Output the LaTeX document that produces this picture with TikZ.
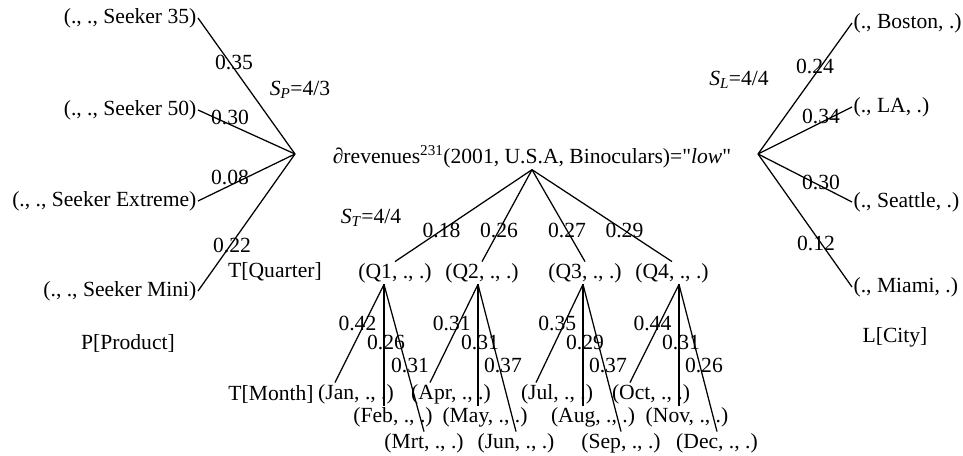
\documentclass[tikz,border=0pt]{standalone}
\usepackage{fontspec}
\setmainfont{Liberation Serif}[Ligatures=TeXOff]
\usetikzlibrary{calc}

\tikzset{
  wl/.style={pos=0.4, xshift=-7pt},
  wm/.style={pos=0.48, xshift=2pt},
  wr/.style={pos=0.55, xshift=4pt},
  wh/.style={pos=0.67},
}

\begin{document}
\begin{tikzpicture}[x=1pt, y=-1pt, line width=1.25pt, font=\fontsize{21.6}{25}\selectfont, every node/.style={inner sep=1pt}]
    \useasboundingbox (0,0) rectangle (963,455);

    % Product dimension (left)
    \coordinate (P) at (295,154);
    \node[anchor=east] (p35) at (198,18) {(., ., Seeker 35)};
    \node[anchor=east] (p50) at (198,110) {(., ., Seeker 50)};
    \node[anchor=east] (pext) at (198,201) {(., ., Seeker Extreme)};
    \node[anchor=east] (pmini) at (198,291) {(., ., Seeker Mini)};
    \node (pdim) at (128,343) {P[Product]};
    \node (sp) at (300,90) {\textit{S}\textsubscript{\textit{P}}=4/3};
    \draw (P) -- (p35.east) node[wh, xshift=4pt] {0.35};
    \draw (P) -- (p50.east) node[wh, yshift=7pt] {0.30};
    \draw (P) -- (pext.east) node[wh, yshift=8pt] {0.08};
    \draw (P) -- (pmini.east) node[wh, xshift=2pt] {0.22};

    % City dimension (right)
    \coordinate (L) at (758,154);
    \node[anchor=west] (lbos) at (852,23) {(., Boston, .)};
    \node[anchor=west] (lla) at (852,107) {(., LA, .)};
    \node[anchor=west] (lsea) at (852,202) {(., Seattle, .)};
    \node[anchor=west] (lmia) at (852,287) {(., Miami, .)};
    \node (ldim) at (895,337) {L[City]};
    \node (sl) at (739,80) {\textit{S}\textsubscript{\textit{L}}=4/4};
    \draw (L) -- (lbos.west) node[wh, xshift=-6pt] {0.24};
    \draw (L) -- (lla.west) node[wh, yshift=6pt] {0.34};
    \draw (L) -- (lsea.west) node[wh, yshift=4pt] {0.30};
    \draw (L) -- (lmia.west) node[wh, xshift=-5pt] {0.12};

    % Root cell and quarters
    \node (root) at (532,157) {∂revenues\textsuperscript{231}(2001, U.S.A, Binoculars)="\textit{low}"};
    \node (st) at (371,218) {\textit{S}\textsubscript{\textit{T}}=4/4};
    \node (tq) at (275,272) {T[Quarter]};
    \node (q1) at (395,273) {(Q1, ., .)};
    \node (q2) at (482,273) {(Q2, ., .)};
    \node (q3) at (585,273) {(Q3, ., .)};
    \node (q4) at (672,273) {(Q4, ., .)};
    \draw (root.south) -- (q1.north) node[pos=0.66] {0.18};
    \draw (root.south) -- (q2.north) node[pos=0.66] {0.26};
    \draw (root.south) -- (q3.north) node[pos=0.66] {0.27};
    \draw (root.south) -- (q4.north) node[pos=0.66] {0.29};

    % Months
    \node (tm) at (271,394) {T[Month]};
    \node (jan) at (356,394) {(Jan, ., .)};
    \node (feb) at (393,417) {(Feb, ., .)};
    \node (mrt) at (424,443) {(Mrt, ., .)};
    \node (apr) at (451,394) {(Apr, ., .)};
    \node (may) at (485,417) {(May, ., .)};
    \node (jun) at (516,443) {(Jun, ., .)};
    \node (jul) at (557,394) {(Jul, ., .)};
    \node (aug) at (593,417) {(Aug, ., .)};
    \node (sep) at (621,443) {(Sep, ., .)};
    \node (oct) at (651,394) {(Oct, ., .)};
    \node (nov) at (687,417) {(Nov, ., .)};
    \node (dec) at (717,443) {(Dec, ., .)};

    \coordinate (q1s) at ([xshift=-11pt]q1.south);
    \coordinate (q2s) at ([xshift=-4pt]q2.south);
    \coordinate (q3s) at ([xshift=-2pt]q3.south);
    \coordinate (q4s) at ([xshift=7pt]q4.south);

    \draw (q1s) -- ([xshift=-21pt]jan.north) node[wl] {0.42};
    \draw (q1s) -- (q1s |- feb.north) node[wm] {0.26};
    \draw (q1s) -- (mrt.north) node[wr] {0.31};

    \draw (q2s) -- ([xshift=-21pt]apr.north) node[wl] {0.31};
    \draw (q2s) -- (q2s |- may.north) node[wm] {0.31};
    \draw (q2s) -- (jun.north) node[wr] {0.37};

    \draw (q3s) -- ([xshift=-21pt]jul.north) node[wl] {0.35};
    \draw (q3s) -- (q3s |- aug.north) node[wm] {0.29};
    \draw (q3s) -- (sep.north) node[wr] {0.37};

    \draw (q4s) -- ([xshift=-21pt]oct.north) node[wl] {0.44};
    \draw (q4s) -- (q4s |- nov.north) node[wm] {0.31};
    \draw (q4s) -- (dec.north) node[wr] {0.26};
\end{tikzpicture}
\end{document}
